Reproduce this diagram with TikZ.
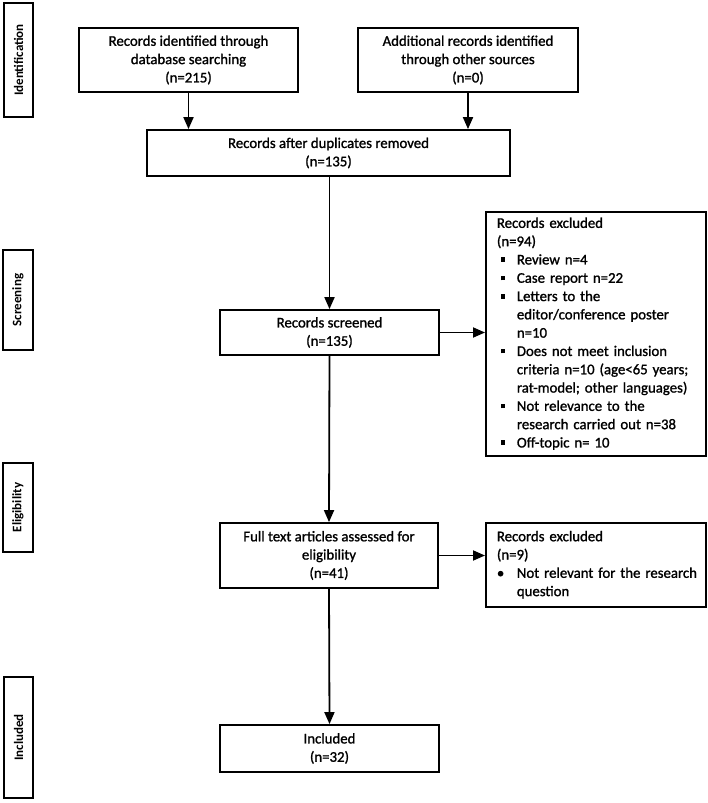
\documentclass[tikz,border=0pt]{standalone}
\usepackage{fontspec}
\setmainfont{Carlito}
\newfontfamily\boxfont{Carlito}[FakeBold=1.2]
\usetikzlibrary{arrows.meta}
\newcommand{\sqbul}{\makebox[20pt][l]{\hspace{4pt}\raisebox{2.5pt}{\rule{4.5pt}{4.5pt}}}}
\newcommand{\rndbul}{\makebox[20pt][l]{\textbullet}}
\newcommand{\itemgap}{\hspace*{20pt}}
\begin{document}
\begin{tikzpicture}[
				x=1pt, y=-1pt,
				every node/.style={
						font=\fontsize{14.8}{18.3}\selectfont\boxfont,
					},
				box/.style={draw, line width=1.8pt, align=center, inner sep=0pt},
				listbox/.style={box, align=left, inner xsep=11pt, text width=198pt},
				phase/.style={draw, line width=1.8pt, rotate=90, inner sep=0pt,
						font=\fontsize{13}{15}\selectfont\bfseries},
				arr/.style={line width=1.8pt, -{Triangle[length=12pt,width=10pt]}},]
			\useasboundingbox (0,0) rectangle (708,803);
			\node[phase, minimum width=114, minimum height=29] (ident) at (18.5,60) {Identification};
			\node[phase, minimum width=100, minimum height=30] (screen) at (18,300) {Screening};
			\node[phase, minimum width=89, minimum height=30] (elig) at (18,507.5) {Eligibility};
			\node[phase, minimum width=121, minimum height=29] (incl) at (18.5,737.5) {Included};
			\node[box, minimum width=219, minimum height=64] (db) at (188.5,60) {Records identified through\\database searching\\(n=215)};
			\node[box, minimum width=220, minimum height=64] (other) at (468,60) {Additional records identified\\through other sources\\(n=0)};
			\node[box, minimum width=363, minimum height=46] (dup) at (328.5,153) {Records after duplicates removed\\(n=135)};
			\node[box, minimum width=219, minimum height=45] (scr) at (329.5,332.5) {Records screened\\(n=135)};
			\node[listbox, minimum height=244, anchor=west] (exc) at (485,334) {%
				\begin{tabular}{@{}l@{}}
				Records excluded\\
				(n=94)\\
				\sqbul Review n=4\\
				\sqbul Case report n=22\\
				\sqbul Letters to the\\
				\itemgap editor/conference poster\\
				\itemgap n=10\\
				\sqbul Does not meet inclusion\\
				\itemgap criteria n=10 (age<65 years;\\
				\itemgap rat-model; other languages)\\
				\sqbul Not relevance to the\\
				\itemgap research carried out n=38\\
				\sqbul Off-topic n= 10
				\end{tabular}};
			\node[box, minimum width=218, minimum height=65] (full) at (329,555.5) {Full text articles assessed for\\eligibility\\(n=41)};
			\node[listbox, minimum height=84, anchor=west] (exctwo) at (485,565) {%
				\begin{tabular}{@{}l@{}}
				Records excluded\\
				(n=9)\\
				\rndbul Not relevant for the research\\
				\itemgap question
				\end{tabular}};
			\node[box, minimum width=219, minimum height=47] (inc) at (329.5,748.5) {Included\\(n=32)};
			\draw[arr] (db.south) -- (db.south |- dup.north);
			\draw[arr] (other.south) -- (other.south |- dup.north);
			\draw[arr] (scr.north |- dup.south) -- (scr.north);
			\draw[arr] (scr.east) -- (scr.east -| exc.west);
			\draw[arr] (scr.south) -- (full.north);
			\draw[arr] (full.east) -- (full.east -| exctwo.west);
			\draw[arr] (full.south) -- (inc.north);
		\end{tikzpicture}
\end{document}
